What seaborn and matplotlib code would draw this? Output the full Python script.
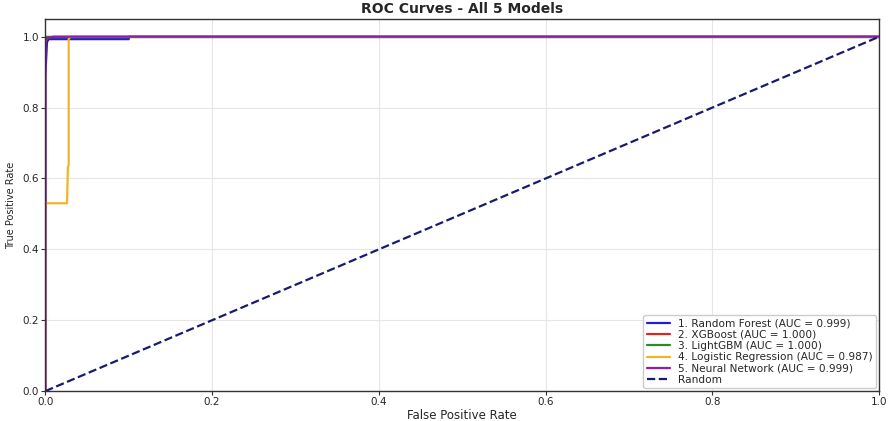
import matplotlib
matplotlib.use("Agg")
import matplotlib.pyplot as plt
import seaborn as sns
import pandas as pd

# ROC curve points per model (false positive rate, true positive rate)
rf_fpr = [0.0, 0.0, 0.002, 0.004, 0.02, 0.06, 0.1, 0.1, 1.0]
rf_tpr = [0.0, 0.89, 0.985, 0.993, 0.993, 0.993, 0.993, 1.0, 1.0]

xgb_fpr = [0.0, 0.0, 1.0]
xgb_tpr = [0.0, 1.0, 1.0]

lgbm_fpr = [0.0, 0.0, 1.0]
lgbm_tpr = [0.0, 1.0, 1.0]

lr_fpr = [0.0, 0.0, 0.026, 0.027, 0.028, 0.028, 0.03, 1.0]
lr_tpr = [0.0, 0.53, 0.53, 0.63, 0.64, 0.993, 1.0, 1.0]

nn_fpr = [0.0, 0.0, 0.002, 0.01, 1.0]
nn_tpr = [0.0, 0.99, 0.996, 1.0, 1.0]

model_names = ["1. Random Forest", "2. XGBoost", "3. LightGBM",
               "4. Logistic Regression", "5. Neural Network"]
auc_values = [0.999, 1.000, 1.000, 0.987, 0.999]
line_colors = ["#1f1fd6", "#d62728", "#2a8a2a", "#f0b429", "#8e1fa0"]

curves = [(rf_fpr, rf_tpr), (xgb_fpr, xgb_tpr), (lgbm_fpr, lgbm_tpr),
          (lr_fpr, lr_tpr), (nn_fpr, nn_tpr)]

sns.set_style("whitegrid", {"grid.color": "#e6e6e6", "axes.edgecolor": "#333333"})
plt.rcParams["font.family"] = ["DejaVu Sans"]

fig, ax = plt.subplots(figsize=(8.89, 4.21), dpi=100)
fig.subplots_adjust(left=0.051, right=0.989, top=0.955, bottom=0.071)

for name, auc, color, (fpr, tpr) in zip(model_names, auc_values, line_colors, curves):
    df = pd.DataFrame({"fpr": fpr, "tpr": tpr})
    sns.lineplot(data=df, x="fpr", y="tpr", ax=ax, color=color, linewidth=1.6,
                 sort=False, estimator=None,
                 label=f"{name} (AUC = {auc:.3f})")

ax.plot([0, 1], [0, 1], linestyle="--", color="#1a1a6e", linewidth=1.6, label="Random")

ax.set_xlim(0, 1)
ax.set_ylim(0, 1.05)
ax.set_xticks([0, 0.2, 0.4, 0.6, 0.8, 1.0])
ax.set_yticks([0, 0.2, 0.4, 0.6, 0.8, 1.0])
ax.tick_params(axis="both", labelsize=7.5, length=3, pad=1.5, color="#333333",
               bottom=True, left=True)
for s in ax.spines.values():
    s.set_visible(True)
    s.set_color("#333333")
    s.set_linewidth(1.0)

ax.set_xlabel("False Positive Rate", fontsize=8.5, labelpad=1)
ax.set_ylabel("True Positive Rate", fontsize=7, labelpad=5)
ax.set_title("ROC Curves - All 5 Models", fontsize=10, fontweight="bold", pad=4)

ax.legend(loc="lower right", fontsize=7.6, frameon=True, framealpha=1.0,
          edgecolor="#cccccc", handlelength=2.2, borderpad=0.3, labelspacing=0.12,
          borderaxespad=0.3)

fig.savefig("out.png", dpi=100)
